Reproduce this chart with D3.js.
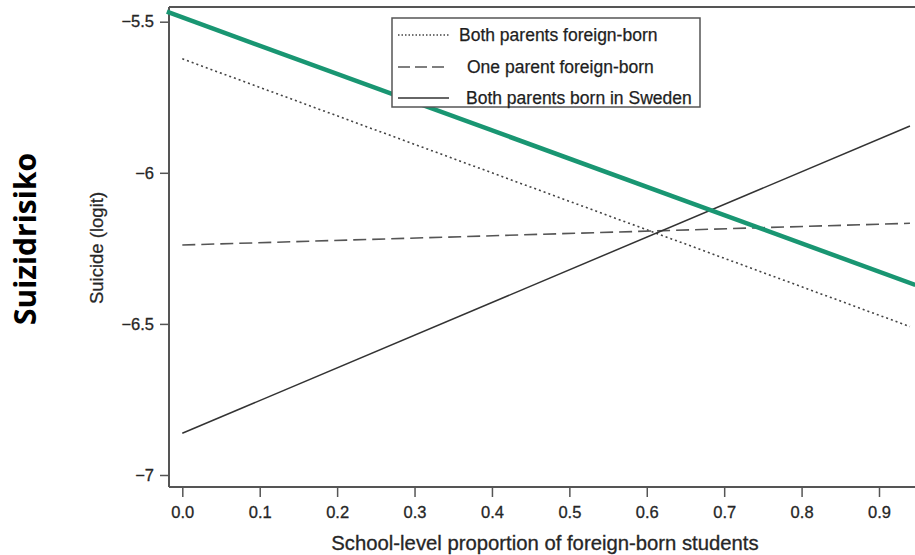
<!DOCTYPE html>
<html><head><meta charset="utf-8">
<script src="https://cdn.jsdelivr.net/npm/d3@7"></script>
<style>body{margin:0;background:#fff}svg{display:block}text{font-family:"Liberation Sans",Arial,sans-serif}</style>
</head><body><svg id="c" width="915" height="555"></svg>
<script>
const xTicks = [0.0,0.1,0.2,0.3,0.4,0.5,0.6,0.7,0.8,0.9];
const yTicks = [-7,-6.5,-6,-5.5];
const seriesNames = ["Both parents foreign-born","One parent foreign-born","Both parents born in Sweden"];
const seriesX = [0, 0.94];
const bothForeign = [-5.623, -6.509];
const oneForeign = [-6.239, -6.167];
const bothSweden = [-6.862, -5.845];
const highlightX = [-0.02, 0.947];
const highlightY = [-5.467, -6.371];

(function(){
const svg = d3.select("#c");
const x = d3.scaleLinear().domain([0,0.9]).range([182.3,879]);
const y = d3.scaleLinear().domain([-7,-5.5]).range([475,21.7]);
const axisColor = "#555";
const txt = "#262626";
const plotLeft = 169, plotBottom = 487, plotTop = 7;

svg.append("line").attr("x1",plotLeft).attr("x2",915).attr("y1",plotTop).attr("y2",plotTop).attr("stroke",axisColor).attr("stroke-width",2);

const ya = svg.append("g").attr("transform",`translate(${plotLeft},0)`)
  .call(d3.axisLeft(y).tickValues(yTicks).tickSize(9).tickPadding(6).tickFormat(d=>String(d).replace("-","\u2212")));
ya.select(".domain").remove();
ya.selectAll(".tick line").attr("stroke",axisColor).attr("stroke-width",1.5);
ya.selectAll(".tick text").style("font-size","16.5px").attr("fill",txt).attr("stroke",txt).attr("stroke-width",0.3);
svg.append("line").attr("x1",plotLeft).attr("x2",plotLeft).attr("y1",plotTop).attr("y2",plotBottom).attr("stroke",axisColor).attr("stroke-width",2);

const xa = svg.append("g").attr("transform",`translate(0,${plotBottom})`)
  .call(d3.axisBottom(x).tickValues(xTicks).tickSize(10).tickPadding(9).tickFormat(d3.format(".1f")));
xa.select(".domain").remove();
xa.selectAll(".tick line").attr("stroke",axisColor).attr("stroke-width",1.5);
xa.selectAll(".tick text").style("font-size","16.5px").attr("fill",txt).attr("stroke",txt).attr("stroke-width",0.3);
svg.append("line").attr("x1",plotLeft).attr("x2",915).attr("y1",plotBottom).attr("y2",plotBottom).attr("stroke",axisColor).attr("stroke-width",2);

const line = d3.line().x(d=>x(d[0])).y(d=>y(d[1]));
const styles = [
  {data: bothForeign, dash:"2,3", color:"#444", w:1.6},
  {data: oneForeign, dash:"13,6", color:"#555", w:1.6},
  {data: bothSweden, dash:null, color:"#333", w:1.5}
];
styles.forEach(s=>{
  svg.append("path").attr("d", line(seriesX.map((v,i)=>[v,s.data[i]])))
    .attr("fill","none").attr("stroke",s.color).attr("stroke-width",s.w)
    .attr("stroke-dasharray",s.dash);
});
svg.append("path").attr("d", line(highlightX.map((v,i)=>[v,highlightY[i]])))
  .attr("fill","none").attr("stroke","#199672").attr("stroke-width",4.5);

const lg = svg.append("g");
lg.append("rect").attr("x",392).attr("y",18).attr("width",308).attr("height",89)
  .attr("fill","#fff").attr("stroke",axisColor).attr("stroke-width",1.5);
const rowsY = [35,67,98], textX = [459,467,466];
seriesNames.forEach((n,i)=>{
  lg.append("line").attr("x1",398).attr("x2",449).attr("y1",rowsY[i]).attr("y2",rowsY[i])
    .attr("stroke",styles[i].color).attr("stroke-width",1.3).attr("stroke-dasharray", i===0?"1.5,2":(i===1?"12,5":null));
  lg.append("text").attr("x",textX[i]).attr("y",rowsY[i]).attr("dy","0.35em")
    .style("font-size","17.5px").attr("fill","#1e1e1e").attr("stroke","#1e1e1e").attr("stroke-width",0.25).text(n);
});

svg.append("text").attr("x",545).attr("y",550).attr("text-anchor","middle")
  .style("font-size","20.3px").attr("fill",txt).attr("stroke",txt).attr("stroke-width",0.3)
  .text("School-level proportion of foreign-born students");
svg.append("text").attr("transform","translate(103,248) rotate(-90)").attr("text-anchor","middle")
  .style("font-size","18.5px").attr("fill",txt).attr("stroke",txt).attr("stroke-width",0.25).text("Suicide (logit)");
svg.append("text").attr("transform","translate(36,239) rotate(-90)").attr("text-anchor","middle")
  .style("font-size","30px").style("font-weight","bold").attr("fill","#000")
  .style("font-family","'Open Sans', sans-serif").text("Suizidrisiko");
})();
</script></body></html>
